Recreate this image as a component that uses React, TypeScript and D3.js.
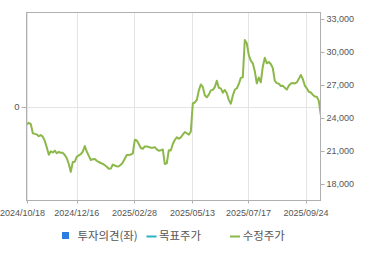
import React from "react";
import * as d3 from "d3";

// 수정주가 (adjusted price), sampled evenly across the period
const prices: number[] = [
  23450, 23560, 23450, 22620, 22560, 22510, 22350, 22450, 22290, 21920,
  21320, 20650, 20970, 20870, 21030, 20790, 20920, 20830, 20830, 20640,
  20340, 19820, 19100, 20000, 20030, 20480, 20600, 20710, 20950, 21450,
  20940, 20550, 20180, 20260, 20270, 20110, 20000, 19910, 19830, 19700,
  19570, 19390, 19400, 19770, 19680, 19600, 19610, 19750, 19950, 20290,
  20640, 20640, 20680, 20790, 22020, 21950, 21630, 21270, 21200, 21420,
  21420, 21370, 21290, 21300, 21350, 21150, 21020, 21070, 21130, 19820,
  19880, 21070, 21050, 21640, 22000, 22250, 22110, 22240, 22480, 22730,
  22610, 22490, 22750, 25320, 25410, 25640, 26490, 27050, 26810, 26070,
  25880, 26130, 26510, 26560, 26800, 27390, 26750, 26690, 26300, 26550,
  26250, 25650, 25300, 26030, 26570, 26700, 27090, 27650, 27700, 31090,
  30790, 29730, 29210, 28970, 28250, 27150, 27680, 27250, 28660, 29470,
  28970, 29090, 28910, 28530, 27380, 27170, 27120, 26910, 26940, 26740,
  26580, 26930, 27130, 27180, 27140, 27230, 27560, 27910, 27550, 26950,
  26700, 26390, 26320, 26120, 25960, 25940, 25550, 24270,
];

const xTickLabels: string[] = [
  "2024/10/18",
  "2024/12/16",
  "2025/02/28",
  "2025/05/13",
  "2025/07/17",
  "2025/09/24",
];
const xTickIndex: number[] = [0, 25, 53.8, 82.8, 110.8, 139.6];

const rightTicks: number[] = [18000, 21000, 24000, 27000, 30000, 33000];
const leftTicks: number[] = [0];

const legendLabels: string[] = ["투자의견(좌)", "목표주가", "수정주가"];

export default function App() {
  const W = 370;
  const H = 255;
  const L = 26.5;
  const R = 320.5;
  const T = 12.5;
  const B = 200.5;

  const x = d3.scaleLinear().domain([0, prices.length - 1]).range([L + 0.3, R + 0.3]);
  const yR = d3.scaleLinear().domain([18000, 33000]).range([184, 19]);
  const yL = d3.scaleLinear().domain([-1, 1]).range([B, T]);

  const line = d3
    .line<number>()
    .x((_, i) => x(i))
    .y((d) => yR(d))
    .curve(d3.curveLinear);

  const fmt = d3.format(",");
  const font = "'Liberation Sans', Arial, sans-serif";
  const kfont = "'Noto Sans CJK KR', 'Noto Sans', sans-serif";

  return (
    <svg
      width={W}
      height={H}
      style={{ position: "absolute", left: 0, top: 0, background: "#fff" }}
    >
      <defs>
        <clipPath id="plotclip">
          <rect x={L} y={T} width={R - L} height={B - T} />
        </clipPath>
      </defs>
      {/* vertical grid */}
      {xTickIndex.map((t, i) => (
        <line
          key={"vg" + i}
          x1={Math.round(x(t)) + 0.5}
          x2={Math.round(x(t)) + 0.5}
          y1={T}
          y2={B}
          stroke="#e4e4e4"
          strokeWidth={1}
        />
      ))}
      {/* horizontal grid at left 0 */}
      {leftTicks.map((t, i) => (
        <line
          key={"hg" + i}
          x1={L}
          x2={R}
          y1={Math.round(yL(t)) + 0.5}
          y2={Math.round(yL(t)) + 0.5}
          stroke="#e4e4e4"
          strokeWidth={1}
        />
      ))}
      {/* price line */}
      <path
        d={line(prices) || ""}
        fill="none"
        stroke="#8cb84a"
        strokeWidth={2}
        strokeLinejoin="round"
        clipPath="url(#plotclip)"
      />
      {/* frame */}
      <rect x={L} y={T} width={R - L} height={B - T} fill="none" stroke="#b0b0b0" strokeWidth={1} />
      {/* left ticks */}
      {leftTicks.map((t, i) => (
        <g key={"lt" + i}>
          <line
            x1={L - 5}
            x2={L}
            y1={Math.round(yL(t)) + 0.5}
            y2={Math.round(yL(t)) + 0.5}
            stroke="#b0b0b0"
          />
          <text
            x={L - 7}
            y={yL(t)}
            dy="0.35em"
            textAnchor="end"
            fontFamily={font}
            fontSize={9.5}
            fill="#555"
          >
            {t}
          </text>
        </g>
      ))}
      {/* right ticks */}
      {rightTicks.map((t, i) => (
        <g key={"rt" + i}>
          <line
            x1={R}
            x2={R + 4}
            y1={Math.round(yR(t)) + 0.5}
            y2={Math.round(yR(t)) + 0.5}
            stroke="#b0b0b0"
          />
          <text
            x={R + 6}
            y={yR(t)}
            dy="0.35em"
            textAnchor="start"
            fontFamily={font}
            fontSize={9}
            fill="#555"
          >
            {fmt(t)}
          </text>
        </g>
      ))}
      {/* bottom ticks */}
      {xTickIndex.map((t, i) => (
        <g key={"bt" + i}>
          <line
            x1={Math.round(x(t)) + 0.5}
            x2={Math.round(x(t)) + 0.5}
            y1={B}
            y2={B + 3}
            stroke="#b0b0b0"
          />
          <text
            x={i === 0 ? 0 : x(t)}
            y={216}
            textAnchor={i === 0 ? "start" : "middle"}
            fontFamily={font}
            fontSize={9}
            fill="#555"
          >
            {xTickLabels[i]}
          </text>
        </g>
      ))}
      {/* legend */}
      <rect x={62} y={232} width={7} height={7} fill="#2a7de1" />
      <text x={77.5} y={236} dy="0.35em" fontFamily={kfont} fontSize={11.4} fill="#555">
        {legendLabels[0]}
      </text>
      <line x1={146.5} x2={156.5} y1={236.5} y2={236.5} stroke="#2bb0c4" strokeWidth={2} />
      <text x={159} y={236} dy="0.35em" fontFamily={kfont} fontSize={11.4} fill="#555">
        {legendLabels[1]}
      </text>
      <line x1={230} x2={240} y1={236.5} y2={236.5} stroke="#8cb84a" strokeWidth={2} />
      <text x={242.7} y={236} dy="0.35em" fontFamily={kfont} fontSize={11.4} fill="#555">
        {legendLabels[2]}
      </text>
    </svg>
  );
}
